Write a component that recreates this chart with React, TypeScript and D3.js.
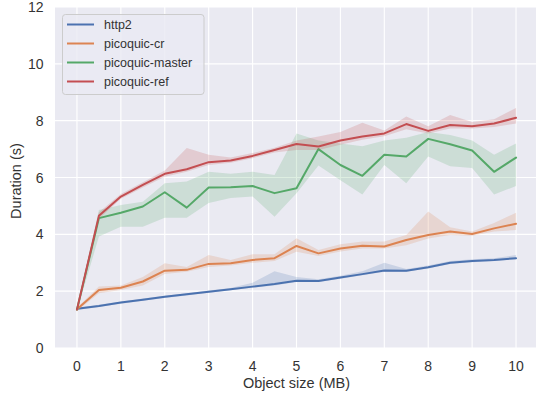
import React from "react";
import * as d3 from "d3";

const xValues = [0, 0.5, 1, 1.5, 2, 2.5, 3, 3.5, 4, 4.5, 5, 5.5, 6, 6.5, 7, 7.5, 8, 8.5, 9, 9.5, 10];

const seriesNames = ["http2", "picoquic-cr", "picoquic-master", "picoquic-ref"];
const seriesColors = ["#4C72B0", "#DD8452", "#55A868", "#C44E52"];

const http2Mean = [1.38, 1.48, 1.6, 1.7, 1.8, 1.89, 1.98, 2.07, 2.16, 2.25, 2.37, 2.36, 2.48, 2.6, 2.73, 2.72, 2.84, 3.0, 3.06, 3.1, 3.16];
const http2Lo = [1.34, 1.44, 1.56, 1.66, 1.76, 1.85, 1.94, 2.03, 2.12, 2.2, 2.32, 2.32, 2.44, 2.56, 2.68, 2.68, 2.8, 2.96, 3.02, 3.06, 3.12];
const http2Hi = [1.42, 1.52, 1.64, 1.74, 1.84, 1.93, 2.02, 2.11, 2.3, 2.7, 2.5, 2.42, 2.54, 2.7, 3.0, 2.78, 2.9, 3.06, 3.12, 3.16, 3.27];

const crMean = [1.36, 2.04, 2.12, 2.34, 2.72, 2.75, 2.96, 2.98, 3.1, 3.16, 3.59, 3.33, 3.5, 3.6, 3.57, 3.8, 3.98, 4.1, 4.01, 4.21, 4.37];
const crLo = [1.3, 1.93, 2.04, 2.2, 2.6, 2.68, 2.85, 2.9, 3.0, 3.06, 3.39, 3.24, 3.4, 3.5, 3.5, 3.62, 3.85, 3.98, 3.95, 4.1, 4.15];
const crHi = [1.42, 2.16, 2.2, 2.5, 2.98, 2.85, 3.27, 3.1, 3.3, 3.3, 3.86, 3.45, 3.65, 3.75, 3.75, 3.98, 4.8, 4.25, 4.1, 4.4, 4.76];

const masterMean = [1.35, 4.57, 4.76, 4.98, 5.48, 4.94, 5.65, 5.66, 5.7, 5.45, 5.62, 7.0, 6.44, 6.06, 6.8, 6.74, 7.36, 7.17, 6.95, 6.2, 6.7];
const masterLo = [1.3, 3.92, 4.27, 4.27, 4.58, 4.58, 5.1, 5.28, 5.33, 4.62, 5.45, 6.42, 5.9, 5.4, 6.44, 5.8, 6.74, 6.4, 6.33, 5.4, 5.7];
const masterHi = [1.4, 4.86, 5.03, 5.15, 5.8, 5.86, 6.2, 6.13, 6.2, 6.09, 7.55, 7.3, 7.2, 7.1, 7.3, 7.4, 7.6, 7.5, 7.3, 6.8, 7.2];

const refMean = [1.35, 4.65, 5.33, 5.74, 6.13, 6.29, 6.54, 6.6, 6.76, 6.97, 7.18, 7.09, 7.3, 7.44, 7.55, 7.88, 7.64, 7.85, 7.8, 7.9, 8.1];
const refLo = [1.3, 4.55, 5.25, 5.65, 6.03, 6.2, 6.44, 6.52, 6.68, 6.88, 6.97, 6.97, 7.15, 7.33, 7.45, 7.7, 7.55, 7.72, 7.72, 7.78, 7.9];
const refHi = [1.4, 4.78, 5.42, 5.83, 6.25, 7.04, 6.8, 6.7, 6.86, 7.05, 7.3, 7.44, 7.6, 7.93, 7.65, 8.15, 7.8, 8.2, 7.95, 8.05, 8.45];

const xTicks = [0, 1, 2, 3, 4, 5, 6, 7, 8, 9, 10];
const yTicks = [0, 2, 4, 6, 8, 10, 12];

const W = 536;
const H = 393;
const margin = { left: 55, top: 7, right: 538, bottom: 348 };
const font = "'Liberation Sans', Arial, Helvetica, sans-serif";
const textColor = "#333333";

export default function App() {
  const x = d3.scaleLinear().domain([-0.5, 10.5]).range([margin.left, margin.right]);
  const y = d3.scaleLinear().domain([0, 12]).range([margin.bottom, margin.top]);

  const series = [
    { mean: http2Mean, lo: http2Lo, hi: http2Hi },
    { mean: crMean, lo: crLo, hi: crHi },
    { mean: masterMean, lo: masterLo, hi: masterHi },
    { mean: refMean, lo: refLo, hi: refHi },
  ];

  const line = d3
    .line<number>()
    .x((_, i) => x(xValues[i]))
    .y((d) => y(d));

  const area = (lo: number[], hi: number[]) =>
    d3
      .area<number>()
      .x((_, i) => x(xValues[i]))
      .y0((_, i) => y(lo[i]))
      .y1((_, i) => y(hi[i]))(xValues) as string;

  const plotW = margin.right - margin.left;
  const plotH = margin.bottom - margin.top;

  return (
    <svg
      width={W}
      height={H}
      style={{ position: "absolute", left: 0, top: 0, display: "block", background: "#ffffff" }}
    >
      <defs>
        <clipPath id="plotclip">
          <rect x={margin.left} y={margin.top} width={plotW} height={plotH} />
        </clipPath>
      </defs>
      <rect x={margin.left} y={margin.top} width={plotW} height={plotH} fill="#EAEAF2" />
      {xTicks.map((t) => (
        <line key={"gx" + t} x1={x(t)} x2={x(t)} y1={margin.top} y2={margin.bottom} stroke="#ffffff" strokeWidth={1.1} />
      ))}
      {yTicks.map((t) => (
        <line key={"gy" + t} x1={margin.left} x2={margin.right} y1={y(t)} y2={y(t)} stroke="#ffffff" strokeWidth={1.1} />
      ))}
      <g clipPath="url(#plotclip)">
        {series.map((s, k) => (
          <g key={"s" + k}>
            <path d={line(s.mean) as string} fill="none" stroke={seriesColors[k]} strokeWidth={2} strokeLinejoin="round" strokeLinecap="round" />
            <path d={area(s.lo, s.hi)} fill={seriesColors[k]} fillOpacity={0.2} stroke="none" />
          </g>
        ))}
      </g>
      {xTicks.map((t) => (
        <text key={"tx" + t} x={x(t)} y={371} textAnchor="middle" fontFamily={font} fontSize={14} fill={textColor}>
          {t}
        </text>
      ))}
      {yTicks.map((t) => (
        <text key={"ty" + t} x={43.5} y={y(t) + 5} textAnchor="end" fontFamily={font} fontSize={14} fill={textColor}>
          {t}
        </text>
      ))}
      <text x={x(5)} y={387.5} textAnchor="middle" fontFamily={font} fontSize={14.5} fill={textColor}>
        Object size (MB)
      </text>
      <text
        transform={`translate(${20.5},${181}) rotate(-90)`}
        textAnchor="middle"
        fontFamily={font}
        fontSize={14.5}
        fill={textColor}
      >
        Duration (s)
      </text>
      <g>
        <rect x={62.5} y={14.5} width={141.5} height={80} rx={3} fill="#EAEAF2" fillOpacity={0.8} stroke="#cccccc" strokeWidth={1} />
        {seriesNames.map((n, k) => (
          <g key={"lg" + k}>
            <line x1={67} x2={94} y1={24.5 + k * 19} y2={24.5 + k * 19} stroke={seriesColors[k]} strokeWidth={2} />
            <text x={104} y={24.5 + k * 19 + 4.5} fontFamily={font} fontSize={12.5} fill={textColor}>
              {n}
            </text>
          </g>
        ))}
      </g>
    </svg>
  );
}
